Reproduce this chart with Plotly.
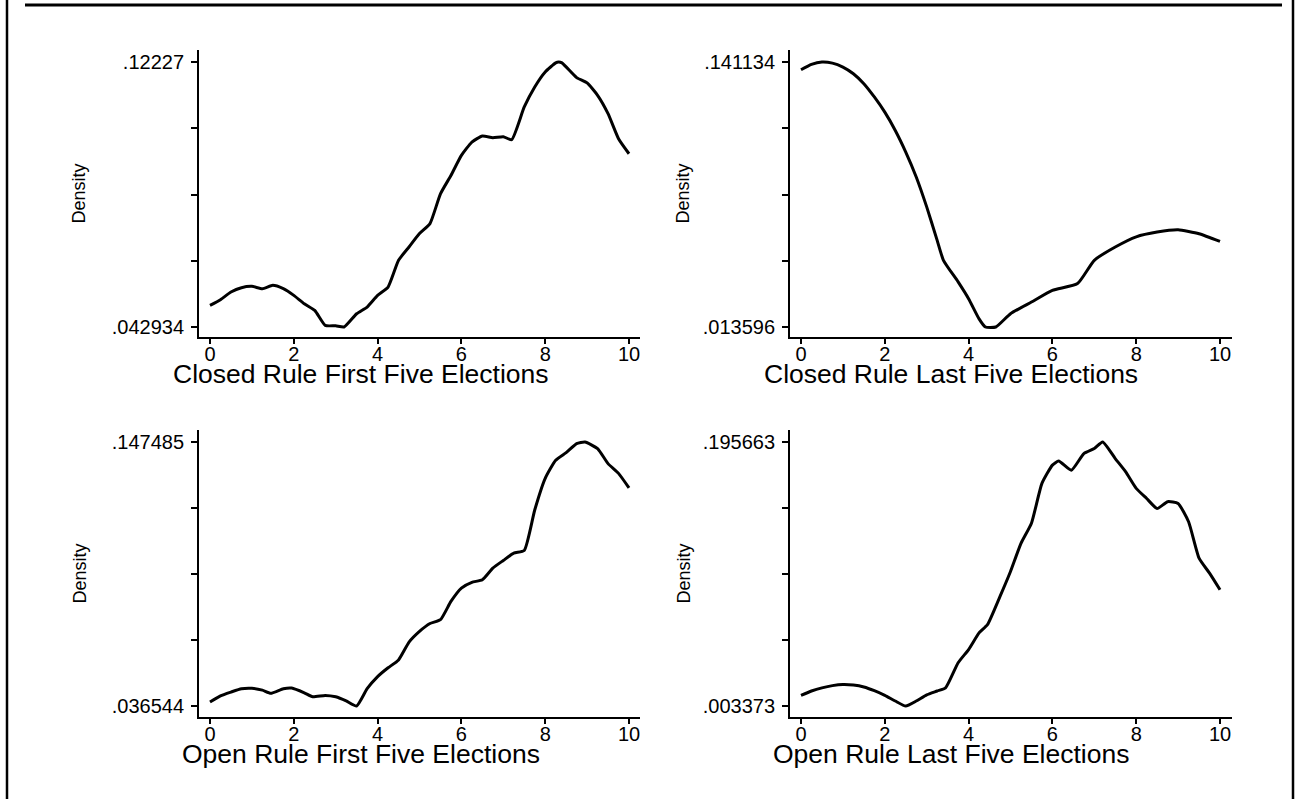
import plotly.graph_objects as go
import numpy as np

W, H = 1298, 799

# ---------------- data ----------------
x_closed_first = [0, 0.25, 0.5, 0.75, 1.0, 1.25, 1.5, 1.75, 2.0, 2.25, 2.5, 2.75, 3.0, 3.2,
                  3.5, 3.75, 4.0, 4.25, 4.5, 4.75, 5.0, 5.25, 5.5, 5.75, 6.0, 6.25, 6.5, 6.75,
                  7.0, 7.2, 7.5, 7.75, 8.0, 8.25, 8.32, 8.4, 8.75, 9.0, 9.25, 9.5, 9.75, 10.0]
y_closed_first = [0.0494, 0.0511, 0.0534, 0.0547, 0.0551, 0.0544, 0.0554, 0.0544, 0.0524, 0.0499,
                  0.0479, 0.0434, 0.0433, 0.042934, 0.0469, 0.0489, 0.0524, 0.0549, 0.0629, 0.0669,
                  0.0709, 0.0739, 0.0828, 0.0883, 0.0943, 0.0983, 0.1001, 0.0996, 0.0999, 0.0990,
                  0.1088, 0.1148, 0.1193, 0.1220, 0.12227, 0.1220, 0.1176, 0.1160, 0.1123, 0.1068,
                  0.0993, 0.0948]

x_closed_last = [0, 0.25, 0.5, 0.75, 1.0, 1.25, 1.5, 1.75, 2.0, 2.25, 2.5, 2.75, 3.0, 3.25, 3.4,
                 3.75, 4.0, 4.25, 4.4, 4.65, 5.0, 5.5, 6.0, 6.6, 7.0, 7.5, 8.0, 8.5, 9.0, 9.5, 10.0]
y_closed_last = [0.1374, 0.1400, 0.141134, 0.1406, 0.1387, 0.1355, 0.1307, 0.1243, 0.1170, 0.1082,
                 0.0978, 0.0858, 0.0714, 0.0553, 0.0457, 0.0353, 0.0272, 0.0175, 0.013596, 0.013596,
                 0.0200, 0.0256, 0.0312, 0.0345, 0.0457, 0.0521, 0.0570, 0.0593, 0.0604, 0.0585,
                 0.0548]

x_open_first = [0, 0.25, 0.5, 0.75, 1.0, 1.25, 1.45, 1.75, 1.95, 2.25, 2.45, 2.75, 3.0, 3.25,
                3.5, 3.75, 4.0, 4.25, 4.5, 4.75, 5.0, 5.25, 5.5, 5.75, 6.0, 6.25, 6.5, 6.75,
                7.0, 7.25, 7.5, 7.75, 8.0, 8.25, 8.5, 8.75, 8.95, 9.25, 9.5, 9.75, 10.0]
y_open_first = [0.0382, 0.0408, 0.0424, 0.0438, 0.0440, 0.0432, 0.0419, 0.0438, 0.0441, 0.0421,
                0.0404, 0.0410, 0.0404, 0.0387, 0.036544, 0.0438, 0.0489, 0.0526, 0.0559, 0.0634,
                0.0679, 0.0712, 0.0728, 0.0805, 0.0861, 0.0885, 0.0896, 0.0945, 0.0977, 0.1008,
                0.1019, 0.1189, 0.1322, 0.1398, 0.1430, 0.1468, 0.147485, 0.1447, 0.1384, 0.1343,
                0.1282]

x_open_last = [0, 0.25, 0.5, 0.75, 1.0, 1.25, 1.5, 1.75, 2.0, 2.25, 2.5, 2.75, 3.0, 3.25, 3.45,
               3.75, 4.0, 4.25, 4.45, 4.75, 5.0, 5.25, 5.5, 5.75, 6.0, 6.15, 6.45, 6.75, 7.0,
               7.2, 7.5, 7.75, 8.0, 8.25, 8.5, 8.75, 9.0, 9.25, 9.5, 9.75, 10.0]
y_open_last = [0.0111, 0.0143, 0.0166, 0.0182, 0.0190, 0.0186, 0.0172, 0.0145, 0.0111, 0.0070,
               0.003373, 0.0070, 0.0115, 0.0143, 0.0166, 0.0349, 0.0445, 0.0566, 0.0626, 0.0832,
               0.1013, 0.1218, 0.1365, 0.1655, 0.1788, 0.1818, 0.1751, 0.1872, 0.1909, 0.195663,
               0.1836, 0.1739, 0.1619, 0.1545, 0.1472, 0.1522, 0.1509, 0.1376, 0.1111, 0.1001,
               0.0880]

y_min_vals = [0.042934, 0.013596, 0.036544, 0.003373]
y_max_vals = [0.12227, 0.141134, 0.147485, 0.195663]
y_min_labels = [".042934", ".013596", ".036544", ".003373"]
y_max_labels = [".12227", ".141134", ".147485", ".195663"]
x_tick_vals = [0, 2, 4, 6, 8, 10]
x_tick_labels = ["0", "2", "4", "6", "8", "10"]
panel_titles = ["Closed Rule First Five Elections", "Closed Rule Last Five Elections",
                "Open Rule First Five Elections", "Open Rule Last Five Elections"]
y_axis_title = "Density"

series_x = [x_closed_first, x_closed_last, x_open_first, x_open_last]
series_y = [y_closed_first, y_closed_last, y_open_first, y_open_last]

# ---------------- layout geometry (pixels) ----------------
cols = [dict(ax=199, right=640, x0=210, x10=629, title_cx=361, ytitle_x=79),
        dict(ax=790, right=1232, x0=801, x10=1220, title_cx=951, ytitle_x=683)]
rows = [dict(top=50, bottom=337, ttop=62, tbot=327, title_cy=374),
        dict(top=430, bottom=717, ttop=442, tbot=706, title_cy=754)]

FONT = "Liberation Sans, Arial, Helvetica, sans-serif"

fig = go.Figure()
annotations = []
layout_axes = {}

for i in range(4):
    r, c = divmod(i, 2)
    col, row = cols[c], rows[r]
    lo, hi = y_min_vals[i], y_max_vals[i]
    sx = (col["x10"] - col["x0"]) / 10.0
    xr = [-(col["x0"] - col["ax"]) / sx, 10 + (col["right"] - col["x10"]) / sx]
    sy = (row["tbot"] - row["ttop"]) / (hi - lo)
    yr = [lo - (row["bottom"] - row["tbot"]) / sy, hi + (row["ttop"] - row["top"]) / sy]

    suffix = "" if i == 0 else str(i + 1)
    fig.add_trace(go.Scatter(x=series_x[i], y=series_y[i], mode="lines",
                             line=dict(color="black", width=3, shape="spline", smoothing=0.5),
                             xaxis="x" + suffix, yaxis="y" + suffix, showlegend=False,
                             hoverinfo="skip"))

    ytv = list(np.linspace(lo, hi, 5))
    ytt = [y_min_labels[i], "", "", "", y_max_labels[i]]

    layout_axes["xaxis" + suffix] = dict(
        domain=[col["ax"] / W, col["right"] / W], range=xr, anchor="y" + suffix,
        showgrid=False, zeroline=False, showline=True, linecolor="black", linewidth=2,
        ticks="outside", ticklen=5, tickwidth=2, tickcolor="black",
        tickvals=x_tick_vals, ticktext=x_tick_labels,
        tickfont=dict(family=FONT, size=20, color="black"), ticklabelstandoff=-7,
        fixedrange=True)
    layout_axes["yaxis" + suffix] = dict(
        domain=[1 - row["bottom"] / H, 1 - row["top"] / H], range=yr, anchor="x" + suffix,
        showgrid=False, zeroline=False, showline=True, linecolor="black", linewidth=2,
        ticks="outside", ticklen=6, tickwidth=2, tickcolor="black",
        tickvals=ytv, ticktext=ytt,
        tickfont=dict(family=FONT, size=20, color="black"), ticklabelstandoff=3,
        fixedrange=True)

    annotations.append(dict(text=y_axis_title, x=col["ytitle_x"] / W, y=1 - ((row["top"] + row["bottom"]) / 2) / H,
                            xref="paper", yref="paper", showarrow=False, textangle=-90,
                            xanchor="center", yanchor="middle",
                            font=dict(family=FONT, size=18, color="black")))
    annotations.append(dict(text=panel_titles[i], x=col["title_cx"] / W, y=1 - row["title_cy"] / H,
                            xref="paper", yref="paper", showarrow=False,
                            xanchor="center", yanchor="middle",
                            font=dict(family=FONT, size=26.5, color="black")))

shapes = [
    dict(type="line", xref="paper", yref="paper", x0=7 / W, x1=7 / W, y0=0, y1=1,
         line=dict(color="black", width=2.5)),
    dict(type="line", xref="paper", yref="paper", x0=25 / W, x1=1282 / W, y0=1 - 5 / H, y1=1 - 5 / H,
         line=dict(color="black", width=3)),
    dict(type="line", xref="paper", yref="paper", x0=1293 / W, x1=1293 / W, y0=0, y1=1,
         line=dict(color="black", width=2.5)),
]

fig.update_layout(width=W, height=H, margin=dict(l=0, r=0, t=0, b=0),
                  paper_bgcolor="white", plot_bgcolor="white",
                  annotations=annotations, shapes=shapes, showlegend=False,
                  **layout_axes)

fig.write_html("out.html", config={"displayModeBar": False})
